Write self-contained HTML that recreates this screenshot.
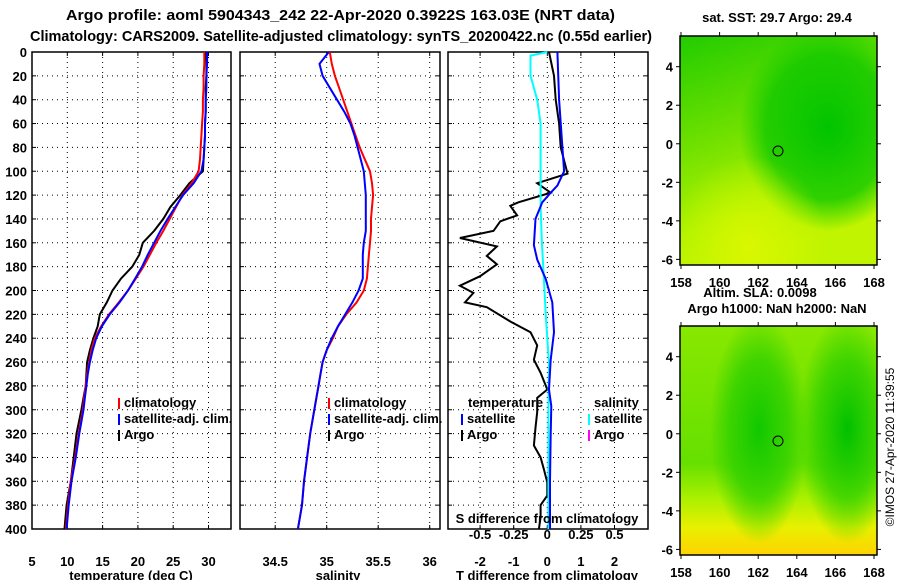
<!DOCTYPE html>
<html><head><meta charset="utf-8"><style>
body{margin:0;background:#fff;width:900px;height:580px;overflow:hidden}
svg text{font-family:"Liberation Sans",sans-serif;font-weight:bold;font-size:13px;fill:#000}
</style></head><body>
<svg id="s" width="900" height="580" viewBox="0 0 900 580" xmlns="http://www.w3.org/2000/svg">
<defs>
<linearGradient id="sstBase" x1="0" y1="0" x2="0.3" y2="1">
<stop offset="0" stop-color="#22cc00"/><stop offset="0.45" stop-color="#6ee000"/><stop offset="0.8" stop-color="#aef200"/><stop offset="1" stop-color="#c0f400"/></linearGradient>
<radialGradient id="sstDark" cx="0.75" cy="0.4" r="0.45"><stop offset="0" stop-color="#00c400" stop-opacity="1"/><stop offset="0.7" stop-color="#10c800" stop-opacity="0.8"/><stop offset="1" stop-color="#10cc00" stop-opacity="0"/></radialGradient>
<radialGradient id="sstYel" cx="0.35" cy="0.92" r="0.4"><stop offset="0" stop-color="#dcf800" stop-opacity="0.9"/><stop offset="1" stop-color="#dcf800" stop-opacity="0"/></radialGradient>
<linearGradient id="slaBase" x1="0" y1="0" x2="0" y2="1">
<stop offset="0" stop-color="#88e800"/><stop offset="0.6" stop-color="#66e000"/><stop offset="0.75" stop-color="#a8f000"/><stop offset="0.88" stop-color="#e8f000"/><stop offset="1" stop-color="#ffd200"/></linearGradient>
<radialGradient id="slaD1" cx="0.4" cy="0.45" r="0.5" gradientTransform="translate(0.4 0.45) scale(0.5 1) translate(-0.4 -0.45)"><stop offset="0" stop-color="#10c800"/><stop offset="0.6" stop-color="#30d000" stop-opacity="0.8"/><stop offset="1" stop-color="#30d000" stop-opacity="0"/></radialGradient>
<radialGradient id="slaD2" cx="0.85" cy="0.45" r="0.5" gradientTransform="translate(0.85 0.45) scale(0.5 1) translate(-0.85 -0.45)"><stop offset="0" stop-color="#00c000"/><stop offset="0.6" stop-color="#30d000" stop-opacity="0.8"/><stop offset="1" stop-color="#30d000" stop-opacity="0"/></radialGradient>
</defs>
<text x="66" y="20" textLength="549" lengthAdjust="spacingAndGlyphs" style="font-size:15px">Argo profile: aoml 5904343_242 22-Apr-2020 0.3922S 163.03E (NRT data)</text>
<text x="30" y="41" textLength="622" lengthAdjust="spacingAndGlyphs" style="font-size:15px">Climatology: CARS2009. Satellite-adjusted climatology: synTS_20200422.nc (0.55d earlier)</text>
<g id="p1"></g>
<g id="p2"></g>
<g id="p3"></g>
<g>
<text x="777" y="22" text-anchor="middle">sat. SST: 29.7 Argo: 29.4</text>
<rect x="680" y="36" width="197" height="229" fill="url(#sstBase)"/>
<rect x="680" y="36" width="197" height="229" fill="url(#sstDark)"/>
<rect x="680" y="36" width="197" height="229" fill="url(#sstYel)"/>
<circle cx="778" cy="151" r="5" fill="none" stroke="#000"/>
</g>
<g>
<text x="760" y="297" text-anchor="middle">Altim. SLA: 0.0098</text>
<text x="777" y="313" text-anchor="middle">Argo h1000: NaN h2000: NaN</text>
<rect x="680" y="326" width="197" height="229" fill="url(#slaBase)"/>
<rect x="680" y="326" width="197" height="229" fill="url(#slaD1)"/>
<rect x="680" y="326" width="197" height="229" fill="url(#slaD2)"/>
<circle cx="778" cy="441" r="5" fill="none" stroke="#000"/>
</g>
<g id="maps"></g>
<text transform="translate(894,447) rotate(-90)" text-anchor="middle" style="font-weight:normal;font-size:12px">©IMOS 27-Apr-2020 11:39:55</text>
</svg>
<script>
const depths=[0,10,20,30,40,50,60,70,80,90,100,110,120,130,140,150,160,170,180,190,200,210,220,230,240,250,260,270,280,290,300,320,340,360,380,400];
const tempClim=[29.4,29.4,29.3,29.3,29.2,29.2,29.1,29.0,28.9,28.8,28.6,27.6,26.3,25.4,24.5,23.6,22.6,21.7,20.8,19.7,18.6,17.3,15.9,14.8,13.9,13.4,13.1,12.8,12.6,12.4,12.2,11.6,11.1,10.5,10.1,9.8];
const tempSat=[29.8,29.8,29.7,29.7,29.6,29.6,29.5,29.5,29.4,29.3,29.0,27.9,26.4,25.3,24.2,23.2,22.3,21.4,20.6,19.6,18.6,17.4,16.0,14.9,14.1,13.6,13.2,12.9,12.7,12.5,12.3,11.7,11.2,10.6,10.2,9.9];
const tempArgo=[29.6,29.7,29.7,29.6,29.6,29.6,29.5,29.5,29.4,29.3,29.2,27.3,26.0,24.6,23.6,22.3,20.7,20.2,19.2,17.6,16.4,15.6,14.6,14.3,13.7,13.2,12.8,12.7,12.6,12.3,12.0,11.3,10.9,10.5,9.9,9.6];
const salClim=[35.03,35.05,35.08,35.12,35.16,35.20,35.24,35.28,35.32,35.37,35.42,35.44,35.45,35.44,35.43,35.43,35.42,35.41,35.40,35.39,35.36,35.29,35.19,35.11,35.06,35.00,34.96,34.94,34.92,34.90,34.88,34.84,34.81,34.78,34.76,34.72];
const salSat=[35.02,34.93,34.96,35.03,35.10,35.17,35.23,35.27,35.30,35.33,35.36,35.37,35.38,35.38,35.38,35.38,35.36,35.35,35.35,35.35,35.31,35.25,35.18,35.11,35.05,35.00,34.96,34.94,34.92,34.90,34.88,34.84,34.81,34.78,34.76,34.72];
const dDepthArgo=[0,20,40,60,80,102,110,118,126,129,137,142,150,156,163,171,178,188,196,202,210,214,226,235,246,258,269,283,290,302,315,330,340,350,361,372,380,390,400];
const dTempArgo=[0.05,0.2,0.25,0.35,0.4,0.6,-0.3,0.1,-0.86,-1.1,-0.9,-1.4,-1.6,-2.6,-1.5,-1.8,-1.5,-2.0,-2.6,-2.2,-2.45,-1.8,-1.1,-0.5,-0.3,-0.4,-0.2,0.0,-0.3,-0.3,-0.35,-0.4,-0.2,-0.1,0.0,0.0,-0.2,-0.2,-0.25];
const dDepthSat=[0,40,80,100,112,118,126,140,162,174,190,210,235,258,283,297,320,360,400];
const dTempSat=[0.3,0.35,0.45,0.5,0.3,0.1,-0.15,-0.35,-0.4,-0.3,-0.05,0.15,0.2,0.1,0.05,0.12,0.1,0.08,0.08];
const dDepthSal=[0,3,20,40,60,100,130,160,190,220,260,300,400];
const dSalSat=[0.0,-0.125,-0.125,-0.075,-0.05,-0.05,-0.05,-0.04,-0.025,-0.012,0.012,0.008,0.008];
const depthTicks=[0,20,40,60,80,100,120,140,160,180,200,220,240,260,280,300,320,340,360,380,400];
const tTicks=[5,10,15,20,25,30];
const sTicks=[34.5,35,35.5,36];
const dTicks=[-2,-1,0,1,2];
const dsTicks=[-0.5,-0.25,0,0.25,0.5];
const lonTicks=[158,160,162,164,166,168];
const latTicks=[4,2,0,-2,-4,-6];

const NS='http://www.w3.org/2000/svg';
const Y0=52,Y1=529;
const yD=d=>Y0+d*(Y1-Y0)/400;
const xT=t=>32+(t-5)*7.06;
const xS=s=>326.7+(s-35)*103;
const xDf=v=>547.3+v*33.6;
function mk(p,tag,at){const e=document.createElementNS(NS,tag);for(const k in at)e.setAttribute(k,at[k]);p.appendChild(e);return e;}
function txt(p,x,y,s,anchor,fill){const e=mk(p,'text',{x:x,y:y,'text-anchor':anchor||'start'});if(fill)e.style.fill=fill;e.textContent=s;return e;}
function frame(g,x0,x1,xs,xf,name){
  depthTicks.forEach(d=>{if(d>0&&d<400){const l=mk(g,'line',{x1:x0,x2:x1,y1:yD(d),y2:yD(d),stroke:'#000','stroke-dasharray':'1 4','stroke-width':1});
  
  }
  mk(g,'line',{x1:x0,x2:x0+4,y1:yD(d),y2:yD(d),stroke:'#000'});mk(g,'line',{x1:x1-4,x2:x1,y1:yD(d),y2:yD(d),stroke:'#000'});});
  xs.forEach(v=>{const x=xf(v);const l=mk(g,'line',{x1:x,x2:x,y1:Y0,y2:Y1,stroke:'#000','stroke-dasharray':'1 4'});
  
  
  mk(g,'line',{x1:x,x2:x,y1:Y0,y2:Y0+4,stroke:'#000'});mk(g,'line',{x1:x,x2:x,y1:Y1-4,y2:Y1,stroke:'#000'});});
  const r=mk(g,'rect',{x:x0,y:Y0,width:x1-x0,height:Y1-Y0,fill:'none',stroke:'#000','stroke-width':1.5});
  
  
}
function line(g,ds,vs,xf,color,name,w){const pts=ds.map((d,i)=>xf(vs[i]).toFixed(1)+','+yD(d).toFixed(1)).join(' ');
  const p=mk(g,'polyline',{points:pts,fill:'none',stroke:color,'stroke-width':w||2});
  
  }
function legend(g,x,y,color,label,name){mk(g,'rect',{x:x,y:y-9,width:2,height:11,fill:color});const t=txt(g,x+6,y,label);
  
  }

const p1=document.getElementById('p1'),p2=document.getElementById('p2'),p3=document.getElementById('p3');
frame(p1,32,231,tTicks.filter(t=>t>5),xT,'temperature');
depthTicks.forEach(d=>{const t=txt(p1,27,yD(d)+5,String(d),'end');
  
  });
tTicks.forEach(v=>{const t=txt(p1,xT(v),566,String(v),'middle');
  
  });
const a1=txt(p1,131,580,'temperature (deg C)','middle');


line(p1,depths,tempArgo,xT,'#000','temperature-argo-line');
line(p1,depths,tempClim,xT,'#f00','temperature-climatology-line');
line(p1,depths,tempSat,xT,'#00f','temperature-satellite-line');
legend(p1,118,407,'#f00','climatology','legend-climatology');
legend(p1,118,423,'#00f','satellite-adj. clim.','legend-satellite');
legend(p1,118,439,'#000','Argo','legend-argo');

frame(p2,240,440,sTicks,xS,'salinity');
sTicks.forEach(v=>{const t=txt(p2,xS(v),566,String(v),'middle');
  
  });
const a2=txt(p2,338,580,'salinity','middle');


line(p2,depths,salClim,xS,'#f00','salinity-climatology-line');
line(p2,depths,salSat,xS,'#00f','salinity-satellite-line');
legend(p2,328,407,'#f00','climatology','legend-s-climatology');
legend(p2,328,423,'#00f','satellite-adj. clim.','legend-s-satellite');
legend(p2,328,439,'#000','Argo','legend-s-argo');

frame(p3,448,648,dTicks,xDf,'difference');
dTicks.forEach(v=>{const t=txt(p3,xDf(v),566,String(v),'middle');
  
  });
const a3=txt(p3,547,580,'T difference from climatology','middle');


line(p3,dDepthArgo,dTempArgo,xDf,'#000','t-diff-argo-line');
line(p3,dDepthSal,dSalSat,v=>xDf(v*4),'#0ff','s-diff-satellite-line');
line(p3,dDepthSat,dTempSat,xDf,'#00f','t-diff-satellite-line');
const sl=txt(p3,547,523,'S difference from climatology','middle');


dsTicks.forEach(v=>{const t=txt(p3,xDf(v*4),539,String(v),'middle');
  
  });
const lt=txt(p3,468,407,'temperature');


const ls=txt(p3,594,407,'salinity');


legend(p3,461,423,'#00f','satellite','legend-t-satellite');
legend(p3,461,439,'#000','Argo','legend-t-argo');
legend(p3,588,423,'#0ff','satellite','legend-s-sat');
legend(p3,588,439,'#f0f','Argo','legend-s-argo-diff');

const mg=document.getElementById('maps');
const xL=l=>681+(l-158)*19.3;
[[36,265,66.7],[326,555,356.7]].forEach(([t,b,y4],i)=>{
  const yl=v=>y4+(4-v)*19.27;
  const r=mk(mg,'rect',{x:680,y:t,width:197,height:b-t,fill:'none',stroke:'#000','stroke-width':1.5});
  
  
  lonTicks.forEach(l=>{mk(mg,'line',{x1:xL(l),x2:xL(l),y1:b,y2:b+4,stroke:'#000'});mk(mg,'line',{x1:xL(l),x2:xL(l),y1:t-4,y2:t,stroke:'#000'});
    const tx=txt(mg,xL(l),b+22,String(l),'middle');
    
    });
  latTicks.forEach(v=>{mk(mg,'line',{x1:676,x2:680,y1:yl(v),y2:yl(v),stroke:'#000'});mk(mg,'line',{x1:877,x2:881,y1:yl(v),y2:yl(v),stroke:'#000'});
    const tx=txt(mg,673,yl(v)+5,String(v),'end');
    
    });
});
</script>
</body></html>
